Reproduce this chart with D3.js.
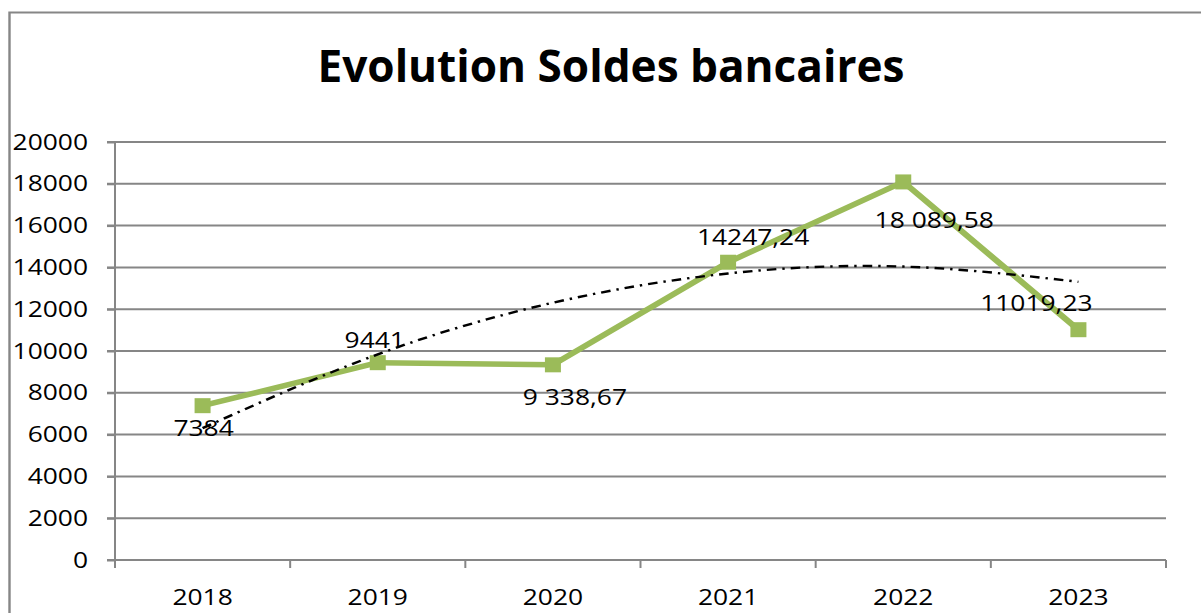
<!DOCTYPE html>
<html><head><meta charset="utf-8">
<script src="https://cdn.jsdelivr.net/npm/d3@7/dist/d3.min.js"></script>
<style>html,body{margin:0;padding:0;background:#fff;overflow:hidden}</style>
</head><body>
<script>
// ---- data ----
const years = ["2018", "2019", "2020", "2021", "2022", "2023"];
const soldes = [7384, 9441, 9338.67, 14247.24, 18089.58, 11019.23];
const valueLabels = ["7384", "9441", "9 338,67", "14247,24", "18 089,58", "11019,23"];
const trendValues = [6310, 9840, 12310, 13710, 14040, 13310];
const yTickValues = [0, 2000, 4000, 6000, 8000, 10000, 12000, 14000, 16000, 18000, 20000];
const titleText = "Evolution Soldes bancaires";

// ---- layout (screen px) ----
const labelOffsets = [[1, 22], [-3, -23], [22, 32], [25, -25], [31, 38], [-42, -27]];
const W = 1201, H = 613, SX = 1.2, VW = W / SX;
const L = 115 / SX, R = 1166 / SX, T = 142, B = 560;
const GRID = "#868686", GREEN = "#9BBB59";
const FONT = "'Open Sans', 'Noto Sans', sans-serif";
const FS = 22;

const svg = d3.select("body").append("svg")
  .attr("width", W).attr("height", H)
  .attr("viewBox", `0 0 ${VW} ${H}`)
  .attr("preserveAspectRatio", "none");

svg.append("rect").attr("x", 0).attr("y", 0).attr("width", VW).attr("height", H).attr("fill", "#fff");
// outer chart border
svg.append("rect")
  .attr("x", 9.5 / SX).attr("y", 12.5)
  .attr("width", VW + 50).attr("height", H + 50)
  .attr("fill", "none").attr("stroke", GRID).attr("stroke-width", 2);

const x = d3.scaleBand().domain(years).range([L, R]);
const y = d3.scaleLinear().domain([0, 20000]).range([B, T]);
const cx = d => x(d) + x.bandwidth() / 2;

// title
svg.append("text")
  .attr("x", 611 / SX).attr("y", 82)
  .attr("text-anchor", "middle")
  .attr("font-family", FONT).attr("font-weight", "bold").attr("font-size", 45)
  .attr("textLength", 587 / SX).attr("lengthAdjust", "spacingAndGlyphs")
  .attr("fill", "#000")
  .text(titleText);

// gridlines
svg.append("g").selectAll("line").data(yTickValues).join("line")
  .attr("x1", L - 8 / SX).attr("x2", R)
  .attr("y1", d => y(d)).attr("y2", d => y(d))
  .attr("stroke", GRID).attr("stroke-width", 2);

// y axis
const yAxis = svg.append("g").attr("transform", `translate(${L},0)`)
  .call(d3.axisLeft(y).tickValues(yTickValues).tickSize(8 / SX).tickPadding(19 / SX).tickFormat(d3.format("d")));
yAxis.select(".domain").remove();
yAxis.selectAll(".tick line").attr("stroke", GRID).attr("stroke-width", 2);
yAxis.selectAll(".tick text").attr("font-family", FONT).attr("font-size", FS).attr("fill", "#000");
svg.append("line").attr("x1", L).attr("x2", L).attr("y1", T - 1).attr("y2", B + 8)
  .attr("stroke", GRID).attr("stroke-width", 2 / SX);

// x axis ticks at band boundaries
const bounds = d3.range(years.length + 1).map(i => L + i * x.step());
svg.append("g").selectAll("line").data(bounds).join("line")
  .attr("x1", d => d).attr("x2", d => d).attr("y1", B).attr("y2", B + 8)
  .attr("stroke", GRID).attr("stroke-width", 2 / SX);
svg.append("g").selectAll("text").data(years).join("text")
  .attr("x", d => cx(d)).attr("y", 605)
  .attr("text-anchor", "middle")
  .attr("font-family", FONT).attr("font-size", FS).attr("fill", "#000")
  .text(d => d);

// series line
const pts = years.map((yr, i) => ({ yr, v: soldes[i] }));
svg.append("path").datum(pts)
  .attr("d", d3.line().x(d => cx(d.yr)).y(d => y(d.v)))
  .attr("fill", "none").attr("stroke", GREEN).attr("stroke-width", 5.5)
  .attr("stroke-linejoin", "round");
svg.append("g").selectAll("rect").data(pts).join("rect")
  .attr("x", d => cx(d.yr) - 8 / SX).attr("y", d => y(d.v) - 7.5)
  .attr("width", 16 / SX).attr("height", 15)
  .attr("fill", GREEN);

// trendline (polynomial)
const tpts = years.map((yr, i) => ({ yr, v: trendValues[i] }));
svg.append("path").datum(tpts)
  .attr("d", d3.line().curve(d3.curveNatural).x(d => cx(d.yr)).y(d => y(d.v)))
  .attr("fill", "none").attr("stroke", "#000").attr("stroke-width", 2.4)
  .attr("stroke-dasharray", "8,5,2,5");

// data labels
svg.append("g").selectAll("text").data(pts).join("text")
  .attr("x", (d, i) => cx(d.yr) + labelOffsets[i][0] / SX)
  .attr("y", (d, i) => y(d.v) + labelOffsets[i][1] + 8)
  .attr("text-anchor", "middle")
  .attr("font-family", FONT).attr("font-size", FS).attr("fill", "#000")
  .text((d, i) => valueLabels[i]);
</script>
</body></html>
